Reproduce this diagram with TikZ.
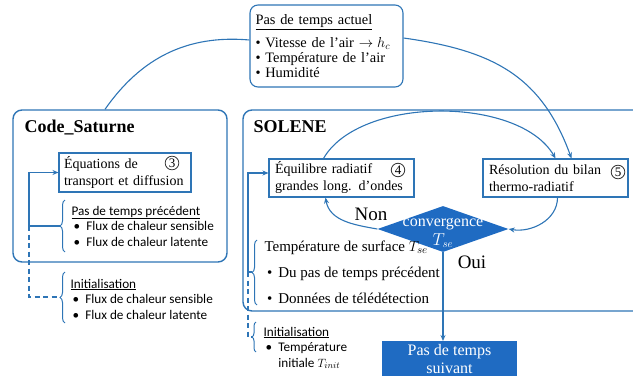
\documentclass[tikz,border=0pt]{standalone}
\usepackage{fontspec}
\setmainfont{Liberation Serif}
\newfontfamily\calibri{Carlito}
\usepackage{xcolor}
\usetikzlibrary{arrows.meta, shapes.geometric, decorations.pathreplacing}
\definecolor{lineblue}{HTML}{2E75B6}
\definecolor{fillblue}{HTML}{1F6BC2}

\begin{document}
\begin{tikzpicture}[
  x=1pt, y=1pt,
  every node/.style = {align=left, font=\fontsize{14}{17}\selectfont},
  group/.style = {draw=lineblue, line width=1.4pt, rounded corners=9pt, inner sep=0pt},
  stage/.style = {draw=lineblue, line width=1.1pt, inner sep=0pt},
  decision/.style = {diamond, fill=fillblue, inner sep=0pt, minimum width=131pt, minimum height=46pt},
  num/.style = {draw=black!80, circle, line width=0.8pt, inner sep=1pt, font=\fontsize{13}{13}\selectfont},
  flow/.style = {draw=lineblue, line width=1.1pt, -{Stealth[length=6pt, width=5pt]}},
  link/.style = {draw=lineblue, line width=1.1pt},
  brace/.style = {draw=lineblue, line width=1pt, decorate, decoration={brace, amplitude=5pt}},
  side/.style = {font=\calibri\fontsize{13.2}{15.5}\selectfont},
  title/.style = {anchor=west, font=\bfseries\fontsize{18}{18}\selectfont},
  answer/.style = {font=\fontsize{19}{19}\selectfont}
]
\clip (0,0) rectangle (633,376);

% current time step
\node[stage, rounded corners=8pt, minimum width=153pt, minimum height=82pt, text width=142pt,
  font=\fontsize{14.4}{15}\selectfont] (actuel) at (326.5,330)
  {\underline{Pas de temps actuel}\\[7pt]
   \textbullet~Vitesse de l’air $\rightarrow h_c$\\
   \textbullet~Température de l’air\\
   \textbullet~Humidité};

% Code_Saturne
\node[group, minimum width=214pt, minimum height=152pt] (cs) at (120,190) {};
\node[title] (cstitle) at (21,248) {Code\_Saturne};
\node[stage, minimum width=132pt, minimum height=39pt, text width=122pt] (eq) at (125,203.5)
  {Équations de\\transport et diffusion};
\node[num] (n3) at (172,213) {3};

\draw[brace] (65,124) -- (65,176);
\coordinate (b1) at (60,150);
\node[side, anchor=west] (prec) at (68,150)
  {\underline{Pas de temps précédent}\\
   \,\textbullet\hspace{6pt}Flux de chaleur sensible\\
   \,\textbullet\hspace{6pt}Flux de chaleur latente};

\draw[brace] (65,53) -- (65,104);
\coordinate (b2) at (60,79);
\node[side, anchor=west] (initcs) at (67,77)
  {\underline{Initialisation}\\
   \,\textbullet\hspace{6pt}Flux de chaleur sensible\\
   \,\textbullet\hspace{6pt}Flux de chaleur latente};

% SOLENE
\node[group, minimum width=417pt, minimum height=201pt] (sol) at (451.5,165.5) {};
\node[title] (soltitle) at (250,249) {SOLENE};
\node[stage, minimum width=145pt, minimum height=38pt, text width=133pt] (equil) at (341.5,198)
  {Équilibre radiatif\\grandes long. d’ondes};
\node[num] (n4) at (398,206) {4};
\node[stage, minimum width=145pt, minimum height=38pt, text width=133pt] (resol) at (555.5,198)
  {Résolution du bilan\\thermo-radiatif};
\node[num] (n5) at (618,204) {5};

\node[decision] (conv) at (443,147) {};
\node[text=white, align=center, font=\fontsize{16}{19}\selectfont] (convtxt) at (443,143) {convergence\\$T_{se}$};
\node[answer] (non) at (371,162) {Non};
\node[answer] (oui) at (472,114) {Oui};

\draw[brace] (257,71) -- (257,136);
\coordinate (b3) at (252,104);
\node[anchor=west, font=\fontsize{15}{17}\selectfont] (tse) at (261,104)
  {Température de surface $T_{se}$\\[9pt]
   \,\textbullet\hspace{6pt}Du pas de temps précédent\\[9pt]
   \,\textbullet\hspace{6pt}Données de télédétection};

\draw[brace, decoration={amplitude=4pt}] (256,24) -- (256,54);
\coordinate (b4) at (252,39);
\node[side, anchor=west] (initsol) at (260,28)
  {\underline{Initialisation}\\
   \,\textbullet\hspace{6pt}Température\\
   \,\phantom{\textbullet}\hspace{6pt}initiale $T_{init}$};

% next time step
\node[fill=fillblue, text=white, align=center, minimum width=135pt, anchor=north, inner sep=3pt,
  font=\fontsize{16}{18}\selectfont] (suiv) at (449.5,35) {Pas de temps\\suivant};

% links
\draw[link] ([yshift=6pt]actuel.west) to[out=175, in=55] ([xshift=-15pt]cs.north);
\draw[flow] ([yshift=8pt]actuel.east) to[out=-8, in=110, looseness=1.1] ([xshift=16pt]resol.north);
\draw[flow] ([xshift=-18pt]equil.north) to[out=60, in=120, looseness=0.8] (resol.north);
\draw[flow] ([xshift=2pt]resol.south) to[out=-90, in=-10] (conv.east);
\draw[flow] (conv.west) to[out=170, in=-80] ([xshift=-16pt]equil.south);
\draw[flow] (conv.south) -- (conv.south |- suiv.north);

% feedback
\coordinate (lp) at (29,150);
\draw[link] (b1) -- (lp);
\draw[flow] (lp) |- (eq.west);
\draw[link, dash pattern=on 5pt off 3.5pt] (lp) |- (b2);
\coordinate (rp) at (248,104);
\draw[link] (b3) -- (rp);
\draw[flow] (rp) |- ([yshift=5pt]equil.west);
\draw[link, dash pattern=on 5pt off 3.5pt] (rp) |- (b4);
\end{tikzpicture}
\end{document}
